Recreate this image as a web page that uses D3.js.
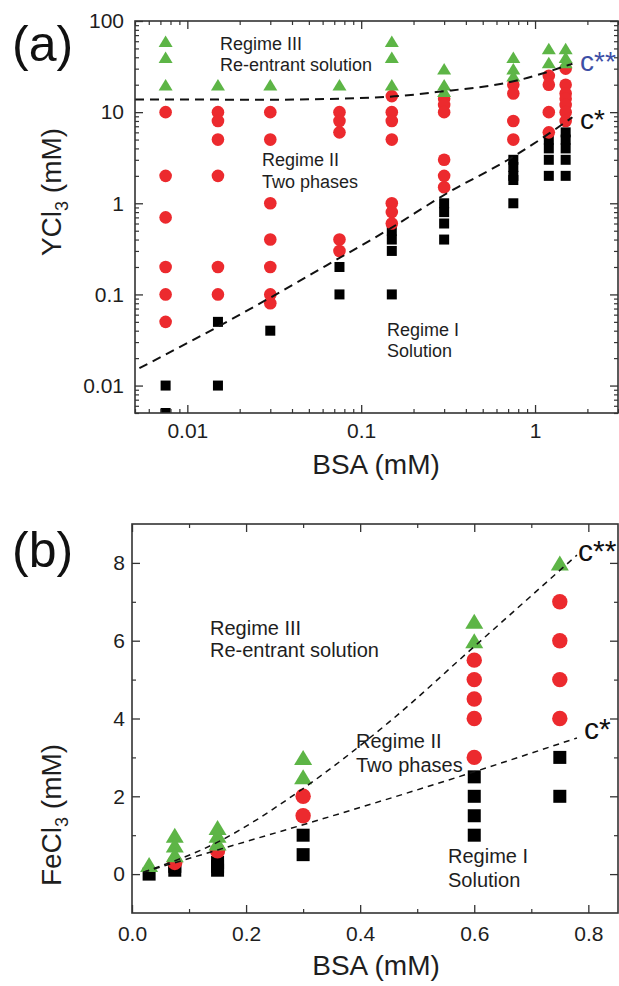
<!DOCTYPE html>
<html><head><meta charset="utf-8">
<script src="https://cdn.jsdelivr.net/npm/d3@7"></script>
<style>
html,body{margin:0;padding:0;background:#fff;}
svg{display:block;font-family:"Liberation Sans",Arial,sans-serif;}
</style></head><body>
<svg id="chart" width="619" height="986"></svg>
<script>
// ---------------- DATA: panel (a) YCl3 vs BSA (log-log) ----------------
const bsaA = [0.0075, 0.015, 0.03, 0.075, 0.15, 0.3, 0.75, 1.2, 1.5];
const triA = [[60,40,20],[20],[20],[20],[60,40,20],[30,20,17],[40,30,25],[50,35],[50,40,35]];
const circA = [[10,2,0.7,0.2,0.1,0.05],[10,8,5,2,0.2,0.1],[10,5,1,0.4,0.2,0.1,0.08],[10,8,6,0.4,0.3],
               [15,10,8,5,1,0.8,0.6],[14,12,10,3,2,1.5],[20,16,8,5],[25,20,10,6],[30,20,16,14,12,10,8]];
const sqA = [[0.01,0.005],[0.05,0.01],[0.04],[0.2,0.1],[0.5,0.4,0.3,0.1],[1,0.8,0.6,0.4],[3,2.5,2,1.8,1],[5,4,3,2],[6,5,4,3,2]];
const cStarA_x = [0.0053, 0.0175, 0.072, 0.14, 0.31, 0.74, 1.2, 1.64];
const cStarA_y = [0.0155, 0.052, 0.24, 0.5, 1.28, 3.2, 5.8, 8.8];
const cStar2A_x = [0.005, 0.03, 0.14, 0.27, 0.8, 1.64];
const cStar2A_y = [13.8, 13.7, 14.7, 16.6, 22.4, 34];
const xTicksA = [0.01, 0.1, 1];
const xTickLabelsA = ["0.01", "0.1", "1"];
const yTicksA = [0.01, 0.1, 1, 10, 100];
const yTickLabelsA = ["0.01", "0.1", "1", "10", "100"];

// ---------------- DATA: panel (b) FeCl3 vs BSA (linear) ----------------
const bsaB = [0.03, 0.075, 0.15, 0.3, 0.6, 0.75];
const triB = [[0.25],[1.0,0.75,0.5],[1.2,1.0,0.8],[3,2.5],[6.5,6],[8]];
const circB = [[],[0.3],[0.6],[2,1.5],[5.5,5,4.5,4,3],[7,6,5,4]];
const sqB = [[0],[0.2,0.1],[0.3,0.2,0.1],[1,0.5],[2.5,2,1.5,1],[3,2]];
const cStarB_x = [0.02, 0.15, 0.3, 0.6, 0.78];
const cStarB_y = [0.05, 0.62, 1.27, 2.63, 3.5];
const cStar2B_x = [0.02, 0.15, 0.3, 0.45, 0.6, 0.78];
const cStar2B_y = [0.05, 0.82, 2.2, 3.9, 5.85, 8.2];
const xTicksB = [0, 0.2, 0.4, 0.6, 0.8];
const xTickLabelsB = ["0.0", "0.2", "0.4", "0.6", "0.8"];
const xMinorB = [0.1, 0.3, 0.5, 0.7];
const yTicksB = [0, 2, 4, 6, 8];
const yTickLabelsB = ["0", "2", "4", "6", "8"];
const yMinorB = [1, 3, 5, 7];

// ---------------- STYLE ----------------
const RED = "#ec2a2e", GREEN = "#5db546", BLACK = "#000", AXIS = "#333", TXT = "#1e1e1e", BLUE = "#3d4fa6";
const svg = d3.select("#chart");

function frameAxes(g, x, y, box, xt, xtl, xm, yt, ytl, ym, xpad, ypad) {
  const fmtX = d => { const i = xt.indexOf(d); return i >= 0 ? xtl[i] : ""; };
  const fmtY = d => { const i = yt.indexOf(d); return i >= 0 ? ytl[i] : ""; };
  const mk = (ax, vals, size, fmt, pad) => ax.tickValues(vals).tickSize(size).tickPadding(pad).tickFormat(fmt);
  const defs = [
    [d3.axisBottom(x), `translate(0,${box.bottom})`, xt, xm, fmtX, xpad],
    [d3.axisTop(x), `translate(0,${box.top})`, xt, xm, () => "", 0],
    [d3.axisLeft(y), `translate(${box.left},0)`, yt, ym, fmtY, ypad],
    [d3.axisRight(y), `translate(${box.right},0)`, yt, ym, () => "", 0]
  ];
  defs.forEach(([ax, tr, maj, min, fmt, pad]) => {
    const a1 = g.append("g").attr("transform", tr).call(mk(ax.copy ? ax : ax, maj, -8, fmt, pad));
    a1.select(".domain").remove();
    a1.selectAll("line").attr("stroke", AXIS).attr("stroke-width", 1.3);
    a1.selectAll("text").attr("fill", TXT).style("font-size", "21px").style("font-family", "Liberation Sans, Arial, sans-serif");
  });
  const minorDefs = [
    [d3.axisBottom(x), `translate(0,${box.bottom})`, xm],
    [d3.axisTop(x), `translate(0,${box.top})`, xm],
    [d3.axisLeft(y), `translate(${box.left},0)`, ym],
    [d3.axisRight(y), `translate(${box.right},0)`, ym]
  ];
  minorDefs.forEach(([ax, tr, vals]) => {
    const a = g.append("g").attr("transform", tr).call(ax.tickValues(vals).tickSize(-4).tickFormat(""));
    a.select(".domain").remove();
    a.selectAll("line").attr("stroke", AXIS).attr("stroke-width", 1.2);
  });
  g.append("rect").attr("x", box.left).attr("y", box.top)
    .attr("width", box.right - box.left).attr("height", box.bottom - box.top)
    .attr("fill", "none").attr("stroke", AXIS).attr("stroke-width", 1.6);
}

function markers(g, x, y, cols, sq, circ, tri, sz) {
  cols.forEach((bx, i) => {
    sq[i].forEach(v => g.append("rect").attr("x", x(bx) - sz.sq / 2).attr("y", y(v) - sz.sq / 2)
      .attr("width", sz.sq).attr("height", sz.sq).attr("fill", BLACK));
    circ[i].forEach(v => g.append("circle").attr("cx", x(bx)).attr("cy", y(v)).attr("r", sz.r).attr("fill", RED));
    tri[i].forEach(v => {
      const cx = x(bx), cy = y(v), w = sz.tw, h = sz.th;
      g.append("path").attr("d", `M${cx - w / 2},${cy + h / 2}L${cx + w / 2},${cy + h / 2}L${cx},${cy - h / 2}Z`).attr("fill", GREEN);
    });
  });
}

function dashed(g, x, y, xs, ys, w, dash) {
  const pts = xs.map((d, i) => [d, ys[i]]);
  g.append("path").datum(pts)
    .attr("d", d3.line().x(d => x(d[0])).y(d => y(d[1])).curve(d3.curveMonotoneX))
    .attr("fill", "none").attr("stroke", "#111").attr("stroke-width", w).attr("stroke-dasharray", dash);
}

function label(g, x, y, txt, size, fill) {
  return g.append("text").attr("x", x).attr("y", y).text(txt).style("font-size", size + "px").attr("fill", fill || TXT);
}

// ---------------- PANEL A ----------------
const boxA = {left: 135, right: 618, top: 21, bottom: 413};
const xA = d3.scaleLog().domain([0.005, 3]).range([boxA.left, boxA.right]);
const yA = d3.scaleLog().domain([0.005, 100]).range([boxA.bottom, boxA.top]);
const gA = svg.append("g");
const xMinorA = xA.ticks().filter(t => !xTicksA.some(m => Math.abs(m - t) / m < 1e-6));
const yMinorA = yA.ticks().filter(t => !yTicksA.some(m => Math.abs(m - t) / m < 1e-6));
const clipA = svg.append("clipPath").attr("id", "clipA").append("rect")
  .attr("x", boxA.left).attr("y", boxA.top).attr("width", boxA.right - boxA.left).attr("height", boxA.bottom - boxA.top);
const plotA = gA.append("g").attr("clip-path", "url(#clipA)");
markers(plotA, xA, yA, bsaA, sqA, circA, triA, {sq: 10, r: 6.3, tw: 14, th: 11.5});
dashed(plotA, xA, yA, cStarA_x, cStarA_y, 2, "9,6");
dashed(plotA, xA, yA, cStar2A_x, cStar2A_y, 2, "9,6");
frameAxes(gA, xA, yA, boxA, xTicksA, xTickLabelsA, xMinorA, yTicksA, yTickLabelsA, yMinorA, 10, 11);

label(gA, 220, 50, "Regime III", 18);
label(gA, 220, 71, "Re-entrant solution", 18);
label(gA, 262, 166, "Regime II", 18);
label(gA, 262, 188, "Two phases", 18);
label(gA, 387, 336, "Regime I", 18);
label(gA, 387, 357, "Solution", 18);
label(gA, 580, 71, "c**", 28, BLUE);
label(gA, 580, 129, "c*", 28, "#111");
label(gA, 12, 61, "(a)", 50, "#111");
label(gA, 376, 474, "BSA (mM)", 28).attr("text-anchor", "middle");
const ylA = gA.append("text").attr("transform", "translate(61,192) rotate(-90)").attr("text-anchor", "middle")
  .style("font-size", "28px").attr("fill", TXT);
ylA.append("tspan").text("YCl");
ylA.append("tspan").attr("dy", 7).style("font-size", "18px").text("3");
ylA.append("tspan").attr("dy", -7).text(" (mM)");

// ---------------- PANEL B ----------------
const boxB = {left: 132, right: 618, top: 524, bottom: 913};
const xB = d3.scaleLinear().domain([0, 0.852]).range([boxB.left, boxB.right]);
const yB = d3.scaleLinear().domain([-1, 9]).range([boxB.bottom, boxB.top]);
const gB = svg.append("g");
markers(gB, xB, yB, bsaB, sqB, circB, triB, {sq: 13, r: 7.7, tw: 18, th: 15});
dashed(gB, xB, yB, cStarB_x, cStarB_y, 1.5, "6,5");
dashed(gB, xB, yB, cStar2B_x, cStar2B_y, 1.5, "6,5");
frameAxes(gB, xB, yB, boxB, xTicksB, xTickLabelsB, xMinorB, yTicksB, yTickLabelsB, yMinorB, 13, 7);

label(gB, 210, 635, "Regime III", 20);
label(gB, 210, 657, "Re-entrant solution", 20);
label(gB, 356, 748, "Regime II", 20);
label(gB, 356, 772, "Two phases", 20);
label(gB, 448, 863, "Regime I", 20);
label(gB, 448, 887, "Solution", 20);
label(gB, 578, 561, "c**", 30, "#111");
label(gB, 584, 739, "c*", 30, "#111");
label(gB, 12, 567, "(b)", 50, "#111");
label(gB, 376, 975, "BSA (mM)", 28).attr("text-anchor", "middle");
const ylB = gB.append("text").attr("transform", "translate(61,815) rotate(-90)").attr("text-anchor", "middle")
  .style("font-size", "28px").attr("fill", TXT);
ylB.append("tspan").text("FeCl");
ylB.append("tspan").attr("dy", 7).style("font-size", "18px").text("3");
ylB.append("tspan").attr("dy", -7).text(" (mM)");
</script>
</body></html>
